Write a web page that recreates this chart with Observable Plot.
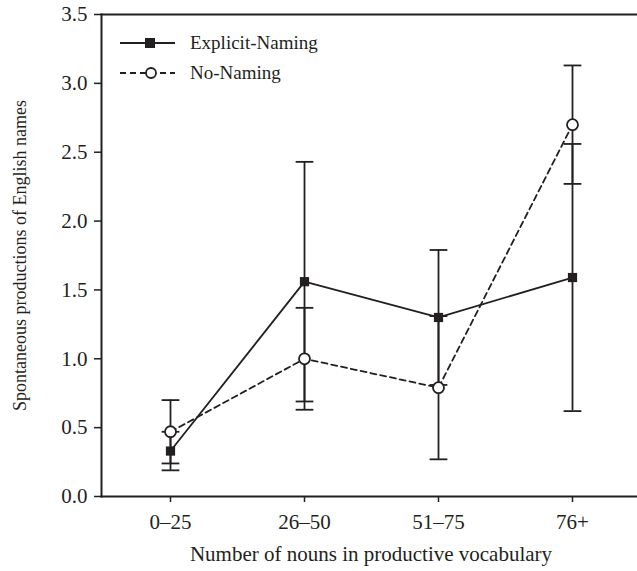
<!DOCTYPE html>
<html>
<head>
<meta charset="utf-8">
<script src="https://cdn.jsdelivr.net/npm/d3@7"></script>
<script src="https://cdn.jsdelivr.net/npm/@observablehq/plot@0.6"></script>
<style>
  html, body { margin: 0; padding: 0; background: #fff; overflow: hidden; }
  #wrap { position: relative; width: 637px; height: 571px; overflow: hidden; }
  #chart svg text { font-family: "Liberation Serif", "Times New Roman", serif !important; fill: #231f20; }
  #legend { position: absolute; left: 120px; top: 28px; font-family: "Liberation Serif", "Times New Roman", serif; font-size: 19px; color: #231f20; }
  #legend .row { display: flex; align-items: center; height: 30px; }
  #legend svg { margin-right: 15px; }
</style>
</head>
<body>
<div id="wrap"><div id="chart"></div><div id="legend"></div></div>
<script>
const categories = ["0–25", "26–50", "51–75", "76+"];
const explicitMean = [0.33, 1.56, 1.30, 1.59];
const explicitSE = [0.14, 0.87, 0.49, 0.97];
const noNamingMean = [0.47, 1.00, 0.79, 2.70];
const noNamingSE = [0.23, 0.37, 0.52, 0.43];
const yTicks = [0, 0.5, 1, 1.5, 2, 2.5, 3, 3.5];
const seriesNames = ["Explicit-Naming", "No-Naming"];

const ink = "#231f20";
const rows = [];
categories.forEach((c, i) => {
  rows.push({cat: c, series: seriesNames[0], y: explicitMean[i], lo: explicitMean[i] - explicitSE[i], hi: explicitMean[i] + explicitSE[i]});
});
categories.forEach((c, i) => {
  rows.push({cat: c, series: seriesNames[1], y: noNamingMean[i], lo: noNamingMean[i] - noNamingSE[i], hi: noNamingMean[i] + noNamingSE[i]});
});
const ex = rows.filter(d => d.series === seriesNames[0]);
const nn = rows.filter(d => d.series === seriesNames[1]);

const capSymbol = {
  draw(context, size) {
    const r = Math.sqrt(size);
    context.moveTo(-r, 0);
    context.lineTo(r, 0);
  }
};

const chart = Plot.plot({
  width: 640,
  height: 571,
  marginLeft: 101,
  marginRight: 0,
  marginTop: 14,
  marginBottom: 75,
  style: {fontFamily: "'Liberation Serif', 'Times New Roman', serif", fontSize: "20px", color: ink, background: "#fff", maxWidth: "none"},
  x: {type: "point", domain: categories, padding: 0.5},
  y: {domain: [0, 3.5]},
  marks: [
    Plot.frame({anchor: "left", stroke: ink, strokeWidth: 2}),
    Plot.frame({anchor: "bottom", stroke: ink, strokeWidth: 2}),
    Plot.frame({anchor: "top", stroke: ink, strokeWidth: 2}),
    Plot.axisY({ticks: yTicks, tickFormat: d3.format(".1f"), tickSize: 7, tickPadding: 7, strokeWidth: 1.5, fontSize: 21, label: null}),
    Plot.axisY({ticks: [], label: "Spontaneous productions of English names", labelAnchor: "center", labelArrow: "none", labelOffset: 88, fontSize: 18}),
    Plot.axisX({tickSize: 6, tickPadding: 12, strokeWidth: 1.5, fontSize: 21, label: null}),
    Plot.axisX({ticks: [], label: "Number of nouns in productive vocabulary", labelAnchor: "center", labelArrow: "none", labelOffset: 64, fontSize: 21}),
    Plot.ruleX(rows, {x: "cat", y1: "lo", y2: "hi", stroke: ink, strokeWidth: 1.8}),
    Plot.dot(rows, {x: "cat", y: "lo", symbol: capSymbol, r: 5, stroke: ink, strokeWidth: 1.8}),
    Plot.dot(rows, {x: "cat", y: "hi", symbol: capSymbol, r: 5, stroke: ink, strokeWidth: 1.8}),
    Plot.line(ex, {x: "cat", y: "y", stroke: ink, strokeWidth: 1.8}),
    Plot.line(nn, {x: "cat", y: "y", stroke: ink, strokeWidth: 1.8, strokeDasharray: "6,4"}),
    Plot.dot(ex, {x: "cat", y: "y", symbol: "square", r: 5.2, fill: ink, stroke: "none"}),
    Plot.dot(nn, {x: "cat", y: "y", symbol: "circle", r: 5.5, fill: "#fff", stroke: ink, strokeWidth: 1.8})
  ]
});
document.getElementById("chart").appendChild(chart);

const legend = document.getElementById("legend");
legend.innerHTML = `
<div class="row"><svg width="55" height="14"><line x1="0" y1="7" x2="55" y2="7" stroke="${ink}" stroke-width="1.8"/><rect x="25" y="2" width="10" height="10" fill="${ink}"/></svg><span>${seriesNames[0]}</span></div>
<div class="row"><svg width="55" height="14"><line x1="0" y1="7" x2="55" y2="7" stroke="${ink}" stroke-width="1.8" stroke-dasharray="6,4"/><circle cx="31" cy="7" r="5" fill="#fff" stroke="${ink}" stroke-width="1.8"/></svg><span>${seriesNames[1]}</span></div>`;
</script>
</body>
</html>
